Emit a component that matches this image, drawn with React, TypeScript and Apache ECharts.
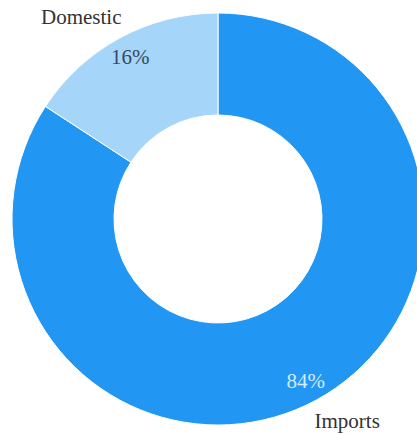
import React, { useEffect, useRef } from "react";
import * as echarts from "echarts";

const categories = ["Imports", "Domestic"];
const values = [84.2, 15.8];
const sliceColors = ["#2196f3", "#a6d5fa"];
const percentColors = ["#d3ecff", "#34495e"];
const nameColor = "#333333";

export default function App() {
  const ref = useRef<HTMLDivElement>(null);
  useEffect(() => {
    document.body.style.margin = "0";
    const chart = echarts.init(ref.current!, null, { renderer: "svg" });
    const font = "'Liberation Serif', 'Times New Roman', serif";
    chart.setOption({
      animation: false,
      series: [
        {
          type: "pie",
          center: [218, 219],
          radius: [104, 206],
          startAngle: 90,
          clockwise: true,
          avoidLabelOverlap: false,
          silent: true,
          itemStyle: { borderColor: "#ffffff", borderWidth: 1 },
          label: {
            show: true,
            position: "outside",
            formatter: "{b}",
            fontFamily: font,
            fontSize: 21,
            color: nameColor,
            distanceToLabelLine: -13,
          },
          labelLine: { show: false, length: 24, length2: 0 },
          emphasis: { disabled: true },
          data: categories.map((c, i) => ({
            name: c,
            value: values[i],
            itemStyle: { color: sliceColors[i] },
          })),
        },
        {
          type: "pie",
          center: [218, 219],
          radius: [156, 206],
          startAngle: 90,
          clockwise: true,
          avoidLabelOverlap: false,
          silent: true,
          itemStyle: { color: "rgba(0,0,0,0)", borderWidth: 0 },
          label: {
            show: true,
            position: "inside",
            formatter: (p: any) => Math.round(p.percent) + "%",
            fontFamily: font,
            fontSize: 21,
          },
          labelLine: { show: false },
          emphasis: { disabled: true },
          data: categories.map((c, i) => ({
            name: c,
            value: values[i],
            label: { color: percentColors[i] },
          })),
        },
      ],
    });
    return () => chart.dispose();
  }, []);
  return <div ref={ref} style={{ width: 417, height: 434 }} />;
}
